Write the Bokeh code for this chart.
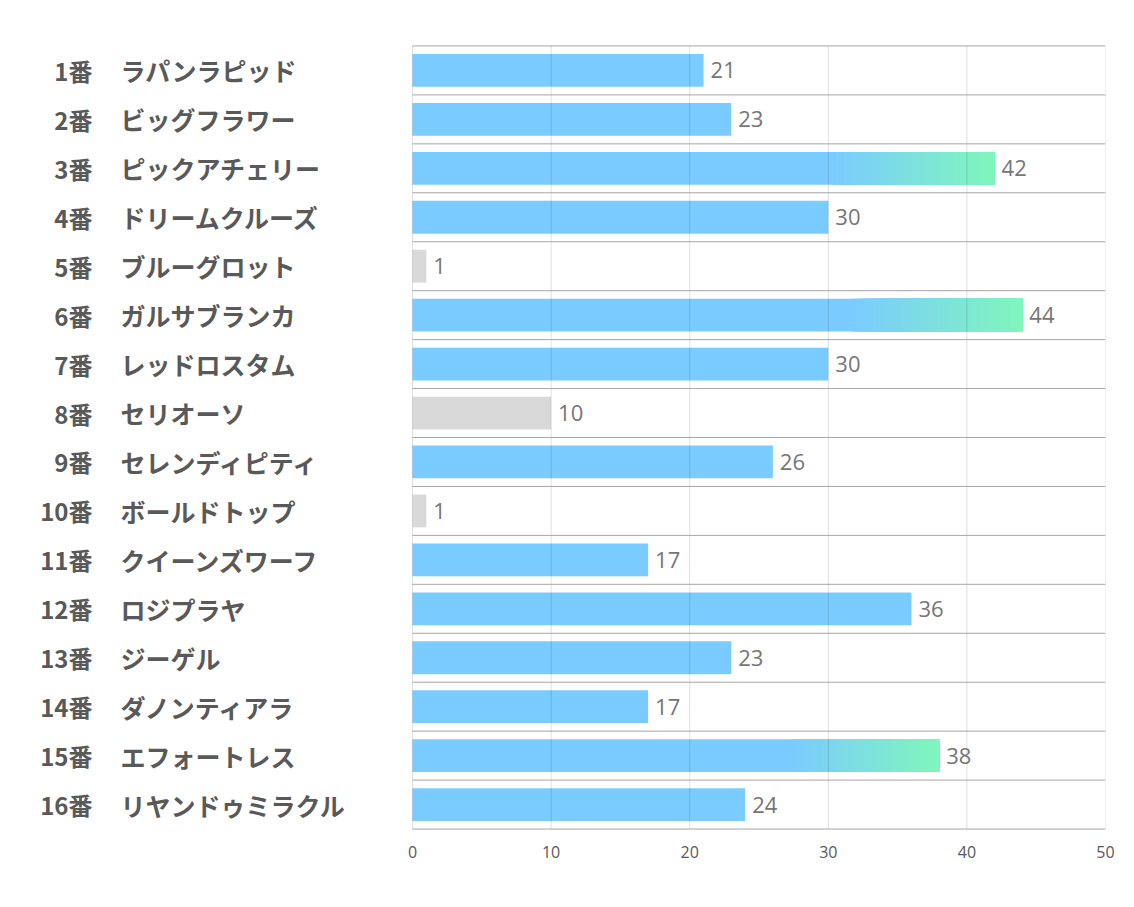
from bokeh.plotting import figure
from bokeh.models import Range1d, FixedTicker
from bokeh.embed import file_html
from bokeh.resources import INLINE
from bokeh.core.properties import value

# ---- data ----
numbers = ["1番", "2番", "3番", "4番", "5番", "6番", "7番", "8番",
           "9番", "10番", "11番", "12番", "13番", "14番", "15番", "16番"]
names = ["ラパンラピッド", "ビッグフラワー", "ピックアチェリー", "ドリームクルーズ",
         "ブルーグロット", "ガルサブランカ", "レッドロスタム", "セリオーソ",
         "セレンディピティ", "ボールドトップ", "クイーンズワーフ", "ロジプラヤ",
         "ジーゲル", "ダノンティアラ", "エフォートレス", "リヤンドゥミラクル"]
votes = [21, 23, 42, 30, 1, 44, 30, 10, 26, 1, 17, 36, 23, 17, 38, 24]
x_ticks = [0, 10, 20, 30, 40, 50]

# ---- styling ----
BLUE = (122, 203, 255)
GREEN = (128, 246, 188)
GRAY = "#D9D9D9"
LABEL_COLOR = "#595959"
VALUE_COLOR = "#767676"

n = len(votes)
rows = list(range(1, n + 1))
top3 = sorted(range(n), key=lambda i: votes[i], reverse=True)[:3]

def hexc(c):
    return "#%02x%02x%02x" % tuple(int(round(v)) for v in c)

x_max = x_ticks[-1]
px_per_unit = 13.86
frame_w = 1097
left_span = frame_w / px_per_unit - x_max

p = figure(
    frame_width=frame_w, frame_height=786,
    x_range=Range1d(-left_span, x_max),
    y_range=Range1d(n + 0.53, 0.47),
    output_backend="svg", toolbar_location=None,
    min_border_left=8, min_border_right=20, min_border_top=44, min_border_bottom=50,
    outline_line_color=None, background_fill_color="white", border_fill_color="white",
)

# base bars
normal_idx = [i for i in range(n) if i not in top3]
base_colors = [GRAY if votes[i] <= 10 else hexc(BLUE) for i in normal_idx]
p.hbar(y=[rows[i] for i in normal_idx], left=0, right=[votes[i] for i in normal_idx],
       height=0.67, fill_color=base_colors, line_color=None)

# gradient bars (top 3)
start_frac = 0.72
steps = 40
gy, gl, gr, gc = [], [], [], []
for i in top3:
    v = votes[i]
    gy.append(rows[i]); gl.append(0); gr.append(v); gc.append(hexc(BLUE))
    for k in range(steps):
        f = start_frac + (1 - start_frac) * k / steps
        t = (k + 0.5) / steps
        col = tuple(BLUE[j] + (GREEN[j] - BLUE[j]) * t for j in range(3))
        gy.append(rows[i]); gl.append(v * f); gr.append(v); gc.append(hexc(col))
p.hbar(y=gy, left=gl, right=gr, height=0.67, fill_color=gc, line_color=None)

# vertical grid lines (drawn over bars, semi-transparent)
p.segment(x0=x_ticks, y0=0.5, x1=x_ticks, y1=n + 0.5,
          line_color="black", line_alpha=0.13, line_width=1)

# horizontal row separators
seps = [k + 0.5 for k in range(n + 1)]
p.segment(x0=0, y0=seps, x1=x_max, y1=seps, line_color="#A6A6A6", line_width=1)

# value labels
p.text(x=votes, y=rows, text=[str(v) for v in votes], x_offset=7,
       text_align="left", text_baseline="middle",
       text_font=value("Open Sans"), text_font_size="22px", text_color=VALUE_COLOR)

# category labels
zeros = [0] * n
p.text(x=zeros, y=rows, text=numbers, x_offset=-320,
       text_align="right", text_baseline="middle",
       text_font=value("Noto Sans CJK JP"), text_font_style="bold",
       text_font_size="24px", text_color=LABEL_COLOR)
p.text(x=zeros, y=rows, text=names, x_offset=-292,
       text_align="left", text_baseline="middle",
       text_font=value("Noto Sans CJK JP"), text_font_style="bold",
       text_font_size="25px", text_color=LABEL_COLOR)

# axes / grid
p.xgrid.visible = False
p.ygrid.visible = False
p.yaxis.visible = False
p.xaxis.ticker = FixedTicker(ticks=x_ticks)
p.xaxis.axis_line_color = None
p.xaxis.major_tick_line_color = None
p.xaxis.minor_tick_line_color = None
p.xaxis.major_tick_out = 0
p.xaxis.major_tick_in = 0
p.xaxis.major_label_standoff = 15
p.xaxis.major_label_text_font = "Open Sans"
p.xaxis.major_label_text_font_size = "16px"
p.xaxis.major_label_text_color = LABEL_COLOR

open("out.html", "w").write(file_html(p, INLINE))
